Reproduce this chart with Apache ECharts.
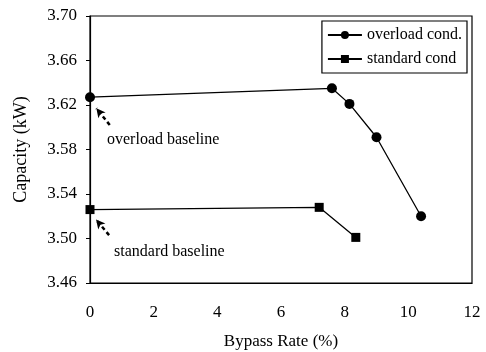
<!DOCTYPE html>
<html><head><meta charset="utf-8">
<script src="https://cdn.jsdelivr.net/npm/echarts@6/dist/echarts.min.js"></script>
<style>html,body{margin:0;padding:0;background:#fff}#c{width:486px;height:352px}</style>
</head><body><div id="c"></div>
<script>
const overloadX = [0, 7.6, 8.15, 9.0, 10.4];
const overloadY = [3.627, 3.635, 3.621, 3.591, 3.520];
const standardX = [0, 7.2, 8.35];
const standardY = [3.526, 3.528, 3.501];
const xTicks = [0, 2, 4, 6, 8, 10, 12];
const yTicks = [3.46, 3.50, 3.54, 3.58, 3.62, 3.66, 3.70];
const arrowOverload = [[0.62, 3.602], [0.2, 3.617]];
const arrowStandard = [[0.6, 3.503], [0.19, 3.517]];

const F = '"Liberation Serif","Times New Roman",serif';
const chart = echarts.init(document.getElementById('c'));
const pair = (xs, ys) => xs.map((x, i) => [x, ys[i]]);
chart.setOption({
  animation: false,
  backgroundColor: '#fff',
  grid: { left: 90, right: 14, top: 16, bottom: 69, outerBoundsMode: 'none', containLabel: false,
    show: true, borderColor: '#000', borderWidth: 1.2 },
  legend: {
    orient: 'vertical', right: 19, top: 21,
    backgroundColor: '#fff', borderColor: '#000', borderWidth: 1.2, borderRadius: 0,
    padding: [6, 5, 6, 5], itemGap: 8, itemWidth: 34, itemHeight: 10,
    textStyle: { fontFamily: F, fontSize: 16, color: '#000' },
    data: ['overload cond.', 'standard cond']
  },
  xAxis: {
    type: 'value', min: 0, max: 12, interval: 2,
    name: 'Bypass Rate (%)', nameLocation: 'middle', nameGap: 50,
    nameTextStyle: { fontFamily: F, fontSize: 17, color: '#000' },
    axisLine: { lineStyle: { color: '#000', width: 1.2 } },
    axisTick: { show: false },
    splitLine: { show: false },
    axisLabel: { fontFamily: F, fontSize: 17, color: '#000', margin: 21, formatter: v => xTicks.includes(v) ? String(v) : '' }
  },
  yAxis: {
    type: 'value', min: 3.46, max: 3.70, interval: 0.04,
    name: 'Capacity (kW)', nameLocation: 'middle', nameGap: 60,
    nameTextStyle: { fontFamily: F, fontSize: 18, color: '#000' },
    axisLine: { lineStyle: { color: '#000', width: 1.2 } },
    axisTick: { show: true, length: 4, lineStyle: { color: '#000' } },
    splitLine: { show: false },
    axisLabel: { fontFamily: F, fontSize: 17, color: '#000', margin: 13,
      formatter: v => { const t = yTicks.find(y => Math.abs(y - v) < 1e-6); return t === undefined ? '' : t.toFixed(2); } }
  },
  series: [
    {
      name: 'overload cond.', type: 'line', data: pair(overloadX, overloadY),
      symbol: 'circle', symbolSize: 10, itemStyle: { color: '#000' },
      lineStyle: { color: '#000', width: 1.3 }, z: 3
    },
    {
      name: 'standard cond', type: 'line', data: pair(standardX, standardY),
      symbol: 'rect', symbolSize: 9, itemStyle: { color: '#000' },
      lineStyle: { color: '#000', width: 1.3 }, z: 3
    },
    {
      type: 'line', data: [], silent: true,
      markLine: {
        silent: true, symbol: ['none', 'arrow'], symbolSize: [7, 9],
        lineStyle: { color: '#000', type: [4, 3], width: 2.5 },
        label: { show: false },
        data: [
          [{ coord: arrowOverload[0] }, { coord: arrowOverload[1] }],
          [{ coord: arrowStandard[0] }, { coord: arrowStandard[1] }]
        ]
      }
    }
  ],
  graphic: [
    { type: 'text', left: 107, top: 132, style: { text: 'overload baseline', font: '16px ' + F, fill: '#000' } },
    { type: 'text', left: 114, top: 244, style: { text: 'standard baseline', font: '16px ' + F, fill: '#000' } }
  ]
});
</script></body></html>
